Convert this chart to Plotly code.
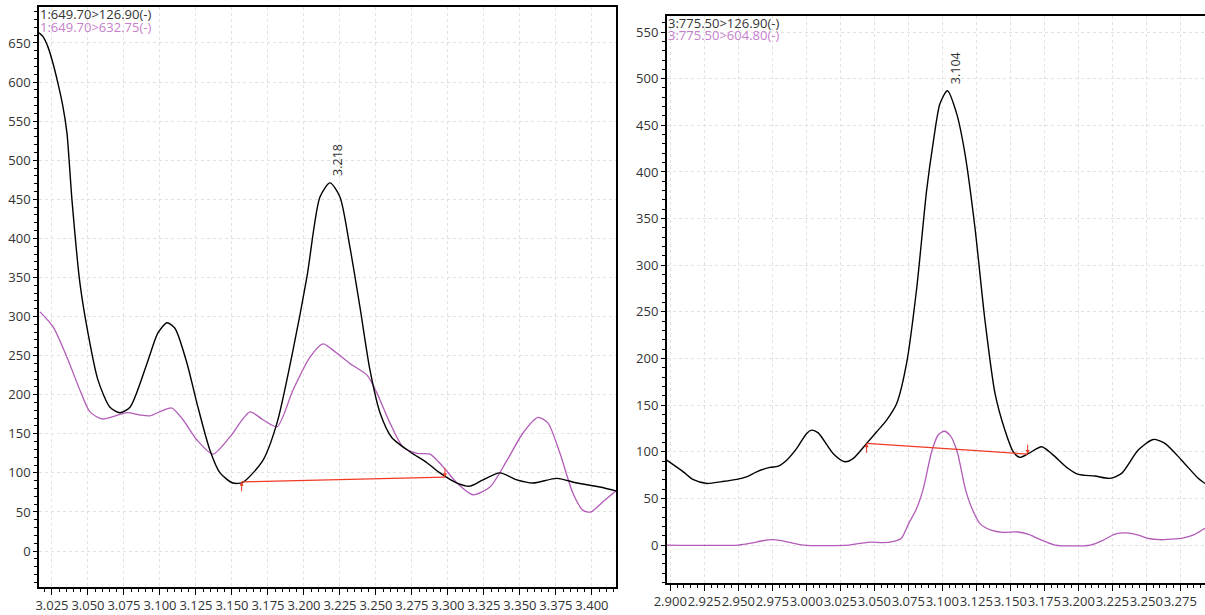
import plotly.graph_objects as go
import numpy as np

# ---------------- data ----------------
left_black_x = [3.0160, 3.0188, 3.0222, 3.0257, 3.0292, 3.0326, 3.0354, 3.0389, 3.0444, 3.0500,
                3.0569, 3.0653, 3.0722, 3.0792, 3.0910, 3.0986, 3.1049, 3.1104, 3.1188, 3.1257,
                3.1347, 3.1417, 3.1507, 3.1576, 3.1715, 3.1813, 3.1924, 3.2021, 3.2111, 3.2181,
                3.2250, 3.2319, 3.2389, 3.2458, 3.2528, 3.2611, 3.2736, 3.2854, 3.2944, 3.3063,
                3.3153, 3.3243, 3.3361, 3.3479, 3.3590, 3.3757, 3.3896, 3.4056, 3.4167]
left_black_y = [663, 658, 645, 624, 598, 569, 535, 449, 343, 279,
                219, 184, 177, 184, 240, 279, 292, 285, 240, 189,
                129, 100, 87, 88, 116, 164, 257, 351, 453, 471,
                453, 389, 312, 232, 177, 145, 127, 113, 100, 87,
                83, 91, 100, 91, 87, 93, 87, 82, 77]

left_mag_x = [3.0167, 3.0257, 3.0354, 3.0444, 3.0514, 3.0597, 3.0674, 3.0771, 3.0861, 3.0931,
              3.1021, 3.1083, 3.1160, 3.1257, 3.1368, 3.1486, 3.1625, 3.1715, 3.1813, 3.1924,
              3.2042, 3.2132, 3.2201, 3.2319, 3.2438, 3.2507, 3.2597, 3.2688, 3.2785, 3.2875,
              3.2965, 3.3063, 3.3174, 3.3292, 3.3410, 3.3521, 3.3625, 3.3694, 3.3778, 3.3868,
              3.3938, 3.3993, 3.4076, 3.4167]
left_mag_y = [306, 287, 248, 206, 178, 169, 172, 177, 174, 173,
              180, 183, 168, 142, 124, 146, 178, 168, 159, 206,
              248, 265, 257, 240, 225, 202, 164, 133, 125, 124,
              108, 87, 72, 82, 116, 151, 171, 164, 125, 74,
              52, 50, 63, 77]

right_black_x = [2.8974, 2.9096, 2.9170, 2.9270, 2.9380, 2.9490, 2.9560, 2.9635, 2.9733, 2.9794,
                 2.9856, 2.9930, 3.0003, 3.0040, 3.0088, 3.0199, 3.0285, 3.0346, 3.0444, 3.0518,
                 3.0591, 3.0665, 3.0738, 3.0812, 3.0885, 3.0934, 3.0983, 3.1038, 3.1106, 3.1167,
                 3.1240, 3.1314, 3.1388, 3.1461, 3.1522, 3.1571, 3.1632, 3.1731, 3.1804, 3.1926,
                 3.2000, 3.2123, 3.2233, 3.2319, 3.2441, 3.2551, 3.2637, 3.2760, 3.2882, 3.2932]
right_black_y = [91, 78.5, 70, 66, 68, 70.4, 73, 78.5, 83.2, 84.6,
                 91, 103.6, 119.7, 123.2, 120.3, 98, 89.3, 92.9, 109, 121.4,
                 134, 151.8, 195, 275, 380, 432, 473, 487, 462.5, 419.7,
                 341, 241, 162.5, 123, 100, 94, 98, 105.3, 98, 82,
                 75.7, 74, 71.5, 76.8, 101.8, 113.2, 109, 91, 71.5, 66]

right_mag_x = [2.8974, 2.9500, 2.9595, 2.9678, 2.9760, 2.9843, 2.9980, 3.0312, 3.0395, 3.0477,
               3.0560, 3.0643, 3.0698, 3.0753, 3.0808, 3.0860, 3.0922, 3.0970, 3.1015, 3.1060,
               3.1110, 3.1170, 3.1222, 3.1277, 3.1360, 3.1443, 3.1553, 3.1635, 3.1718, 3.1829,
               3.2090, 3.2187, 3.2270, 3.2352, 3.2435, 3.2518, 3.2601, 3.2683, 3.2766, 3.2849,
               3.2932]
right_mag_y = [0, 0, 2, 4.6, 5.7, 4, 0, 0, 1.8, 3.2,
               2.5, 4, 7, 23, 38, 60, 100, 118, 122, 117,
               100, 60, 38, 23, 16, 13.6, 14, 11.4, 6, 0,
               0, 5.4, 11.8, 13, 11, 7, 5.7, 6.3, 7.5, 11,
               18]

left_base_x = [3.1567, 3.2979]
left_base_y = [88.5, 94.5]
right_base_x = [3.0444, 3.1628]
right_base_y = [109, 97.5]

peak_labels = ["3.218", "3.104"]
left_headers = ["1:649.70>126.90(-)", "1:649.70>632.75(-)"]
right_headers = ["3:775.50>126.90(-)", "3:775.50>604.80(-)"]

# ---------------- style ----------------
W, H = 1205, 615
BLACK = "#000000"
MAG = "#b25cb8"
MAG_TXT = "#c57fcc"
RED = "#f03a26"
FONT = "Open Sans"
TXT = "#333333"

fig = go.Figure()

def add_panel(bx, by, mx, my, basex, basey, xa, ya):
    fig.add_trace(go.Scatter(x=mx, y=my, mode="lines", xaxis=xa, yaxis=ya,
                             line=dict(color=MAG, width=1.3, shape="spline", smoothing=0.7),
                             hoverinfo="skip", showlegend=False))
    fig.add_trace(go.Scatter(x=bx, y=by, mode="lines", xaxis=xa, yaxis=ya,
                             line=dict(color=BLACK, width=1.4, shape="spline", smoothing=0.7),
                             hoverinfo="skip", showlegend=False))
    fig.add_trace(go.Scatter(x=basex, y=basey, mode="lines", xaxis=xa, yaxis=ya,
                             line=dict(color=RED, width=1.2),
                             hoverinfo="skip", showlegend=False))

add_panel(left_black_x, left_black_y, left_mag_x, left_mag_y, left_base_x, left_base_y, "x", "y")
add_panel(right_black_x, right_black_y, right_mag_x, right_mag_y, right_base_x, right_base_y, "x2", "y2")

def xaxis_style(domain, rng, tick0, anchor):
    return dict(domain=domain, range=rng, tick0=tick0, dtick=0.025, tickformat=".3f", anchor=anchor,
                showline=True, linecolor="black", linewidth=1.5, mirror=True,
                ticks="outside", ticklen=6, tickwidth=1, tickcolor="black", tickangle=0,
                minor=dict(dtick=0.005, ticklen=3, tickcolor="black", ticks="outside", showgrid=False),
                showgrid=True, gridcolor="#e2e2e2", griddash="dot", gridwidth=1,
                zeroline=False, automargin=False,
                tickfont=dict(family=FONT, size=13, color=TXT))

def yaxis_style(domain, rng, anchor):
    return dict(domain=domain, range=rng, tick0=0, dtick=50, anchor=anchor,
                showline=True, linecolor="black", linewidth=1.5, mirror=True,
                ticks="outside", ticklen=4, tickwidth=1, tickcolor="black",
                minor=dict(dtick=10, ticklen=3, tickcolor="black", ticks="outside", showgrid=False),
                showgrid=True, gridcolor="#e2e2e2", griddash="dot", gridwidth=1,
                zeroline=False, automargin=False,
                tickfont=dict(family=FONT, size=13, color=TXT))

fig.update_layout(
    width=W, height=H, template="none",
    margin=dict(l=0, r=0, t=0, b=0, pad=0),
    paper_bgcolor="white", plot_bgcolor="white",
    showlegend=False,
    xaxis=xaxis_style([39 / W, 616 / W], [3.0160, 3.4167], 3.0, "y"),
    yaxis=yaxis_style([(H - 587) / H, (H - 7) / H], [-46, 696], "x"),
    xaxis2=xaxis_style([666.7 / W, 1.0], [2.8974, 3.2932], 2.9, "y2"),
    yaxis2=yaxis_style([(H - 583) / H, (H - 15.7) / H], [-40.7, 567.5], "x2"),
)

anns = []
# peak labels (apex of the main peak inside each integration window)
for bx, by, basex, lab, xr, yr in [(left_black_x, left_black_y, left_base_x, peak_labels[0], "x", "y"),
                                   (right_black_x, right_black_y, right_base_x, peak_labels[1], "x2", "y2")]:
    bxa, bya = np.array(bx), np.array(by)
    mask = (bxa >= basex[0]) & (bxa <= basex[1])
    idx = np.where(mask)[0]
    i = int(idx[np.argmax(bya[idx])])
    anns.append(dict(x=bx[i], y=by[i], xref=xr, yref=yr, text=lab, textangle=-90,
                     showarrow=False, xanchor="center", yanchor="bottom", xshift=8, yshift=5,
                     font=dict(family=FONT, size=12.5, color=TXT)))
# baseline arrows
for basex, basey, xr, yr in [(left_base_x, left_base_y, "x", "y"), (right_base_x, right_base_y, "x2", "y2")]:
    anns.append(dict(x=basex[0], y=basey[0], xref=xr, yref=yr, ax=0, ay=11, axref="pixel", ayref="pixel",
                     text="", showarrow=True, arrowhead=2, arrowsize=0.8, arrowwidth=1, arrowcolor=RED,
                     standoff=0))
    anns.append(dict(x=basex[1], y=basey[1], xref=xr, yref=yr, ax=0, ay=-11, axref="pixel", ayref="pixel",
                     text="", showarrow=True, arrowhead=2, arrowsize=0.8, arrowwidth=1, arrowcolor=RED,
                     standoff=0))
# headers
for txts, x0, ys in [(left_headers, 38 / W, [14, 27.3]), (right_headers, 665.5 / W, [22.7, 35.3])]:
    for t, yy, col in zip(txts, ys, [TXT, MAG_TXT]):
        anns.append(dict(x=x0, y=1 - yy / H, xref="paper", yref="paper", text=t, showarrow=False,
                         xanchor="left", yanchor="middle",
                         font=dict(family=FONT, size=13, color=col)))
fig.update_layout(annotations=anns)

fig.write_html("out.html")
